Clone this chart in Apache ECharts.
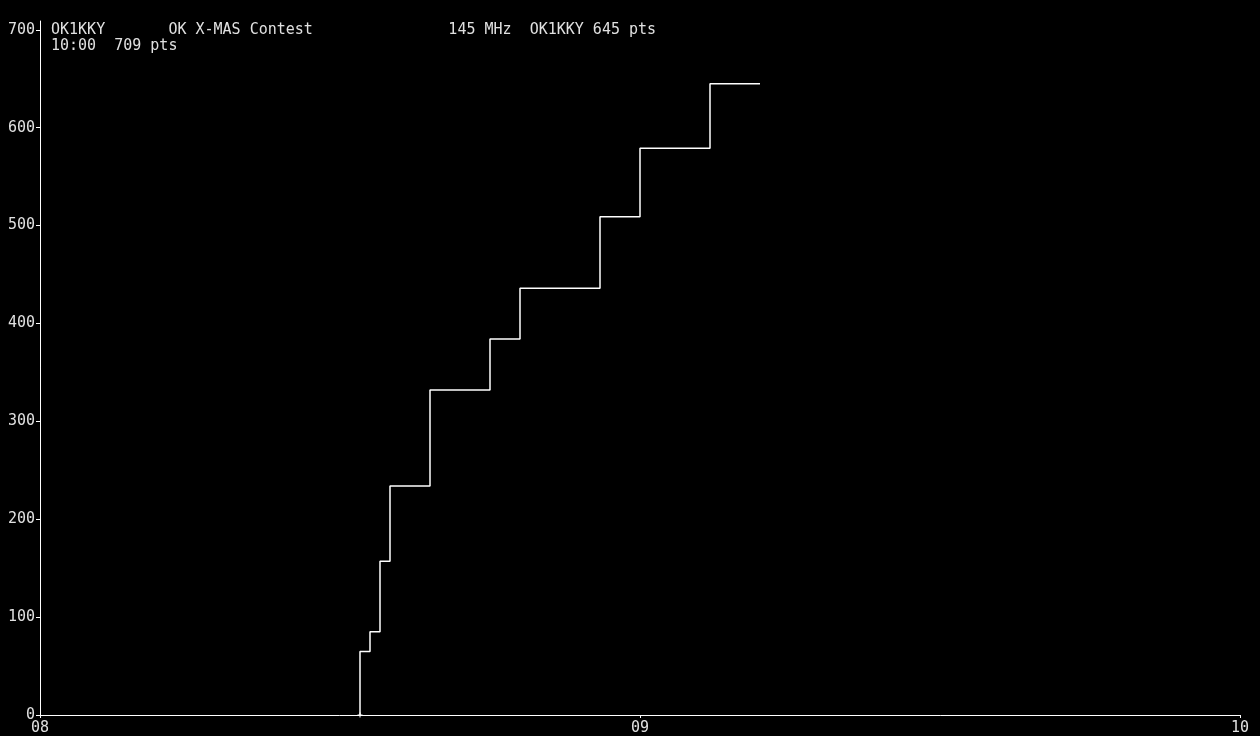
<!DOCTYPE html>
<html>
<head>
<meta charset="utf-8">
<title>OK1KKY - OK X-MAS Contest</title>
<script src="https://cdn.jsdelivr.net/npm/echarts@6/dist/echarts.min.js"></script>
<style>
  html, body { margin: 0; padding: 0; background: #000; }
  #chart { width: 1260px; height: 736px; }
</style>
</head>
<body>
<div id="chart"></div>
<script>
// minutes after 08:00 at which the score steps, and the score reached there
var stepMinutes = [32, 32, 33, 34, 35, 39, 45, 48, 56, 60, 67, 72];
var scoreValues = [0, 65, 85, 157, 234, 332, 384, 436, 509, 579, 645, 645];

// axis labels
var xTickLabels = ['08', '09', '10'];
var yTickValues = [0, 100, 200, 300, 400, 500, 600, 700];

// header lines
var headerLine1 = 'OK1KKY       OK X-MAS Contest               145 MHz  OK1KKY 645 pts';
var headerLine2 = '10:00  709 pts';

var monoFont = '"DejaVu Sans Mono", "Liberation Mono", monospace';
var txtColor = '#e0e0e0';
var lineColor = '#ffffff';

var seriesData = stepMinutes.map(function (m, i) {
    var item = { value: [m, scoreValues[i]] };
    // small cross where the log starts
    if (i == 0) {
        item.symbol = 'path://M2,0H3V5H2ZM0,2H5V3H0Z';
        item.symbolSize = 5;
    }
    return item;
});

var option = {
    backgroundColor: '#000',
    animation: false,
    title: {
        text: headerLine1 + '\n' + headerLine2,
        left: 51,
        top: 22,
        padding: 0,
        textStyle: {
            color: txtColor,
            fontFamily: monoFont,
            fontSize: 15,
            fontWeight: 'normal',
            lineHeight: 16
        }
    },
    grid: { left: 40, right: 20, top: 21, bottom: 19 },
    xAxis: {
        type: 'value',
        min: 0,
        max: 120,
        interval: 60,
        axisLine: { lineStyle: { color: lineColor, width: 1 } },
        axisTick: { show: true, length: 3, lineStyle: { color: lineColor } },
        splitLine: { show: false },
        axisLabel: {
            color: txtColor,
            fontFamily: monoFont,
            fontSize: 15,
            margin: 6,
            formatter: function (v) { return xTickLabels[v / 60]; }
        }
    },
    yAxis: {
        type: 'value',
        min: 0,
        max: 709,
        axisLine: { show: true, lineStyle: { color: lineColor, width: 1 } },
        axisTick: { show: true, length: 4, customValues: yTickValues, lineStyle: { color: lineColor } },
        splitLine: { show: false },
        axisLabel: {
            color: txtColor,
            fontFamily: monoFont,
            fontSize: 15,
            margin: 5,
            customValues: yTickValues
        }
    },
    series: [{
        type: 'line',
        step: 'end',
        symbol: 'none',
        showSymbol: true,
        itemStyle: { color: lineColor },
        lineStyle: { color: lineColor, width: 1.5 },
        data: seriesData
    }]
};

var myChart = echarts.init(document.getElementById('chart'));
myChart.setOption(option);
</script>
</body>
</html>
